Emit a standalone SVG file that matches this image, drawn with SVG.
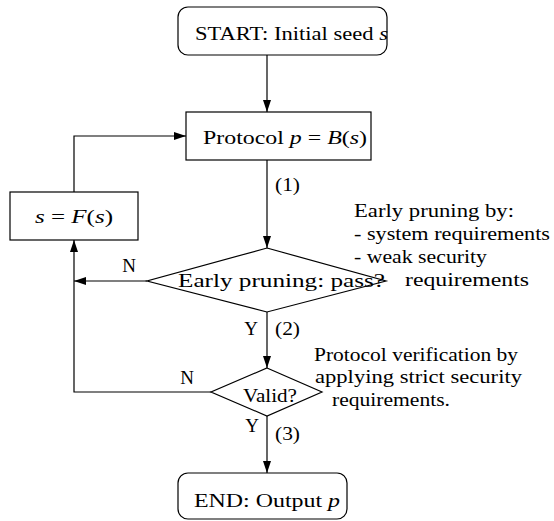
<svg xmlns="http://www.w3.org/2000/svg" width="554" height="521" viewBox="0 0 554 521">
  <style>
    .box { fill: #fff; stroke: #000; stroke-width: 1.2; }
    .ln { fill: none; stroke: #000; stroke-width: 1.2; }
    text { font-family: "Liberation Serif", "Times New Roman", serif; font-size: 19px; fill: #000; }
    .m { font-style: italic; }
  </style>
  <defs>
    <marker id="ah" viewBox="0 0 12 8" refX="12" refY="4" markerWidth="12" markerHeight="8" markerUnits="userSpaceOnUse" orient="auto">
      <path d="M0,0 L12,4 L0,8 Z" fill="#000"/>
    </marker>
  </defs>

  <g id="connectors">
    <line class="ln" x1="267" y1="55" x2="267" y2="112" marker-end="url(#ah)"/>
    <line class="ln" x1="267" y1="160" x2="267" y2="248" marker-end="url(#ah)"/>
    <line class="ln" x1="147" y1="281" x2="74" y2="281" marker-end="url(#ah)"/>
    <line class="ln" x1="267" y1="312" x2="267" y2="368" marker-end="url(#ah)"/>
    <polyline class="ln" points="211,392 74,392 74,240" marker-end="url(#ah)"/>
    <polyline class="ln" points="74,192 74,136 186,136" marker-end="url(#ah)"/>
    <line class="ln" x1="267" y1="416" x2="267" y2="473" marker-end="url(#ah)"/>
    <text x="275" y="191" textLength="25" lengthAdjust="spacingAndGlyphs">(1)</text>
    <text x="129" y="272" text-anchor="middle">N</text>
    <text x="251" y="335" text-anchor="middle">Y</text>
    <text x="275" y="335" textLength="25" lengthAdjust="spacingAndGlyphs">(2)</text>
    <text x="187" y="384" text-anchor="middle">N</text>
    <text x="252" y="432" text-anchor="middle">Y</text>
    <text x="275" y="440" textLength="25" lengthAdjust="spacingAndGlyphs">(3)</text>
  </g>

  <g id="start">
    <rect class="box" x="178" y="7" width="209" height="48" rx="10"/>
    <text x="195" y="40" textLength="193" lengthAdjust="spacingAndGlyphs">START: Initial seed <tspan class="m">s</tspan></text>
  </g>

  <g id="protocol">
    <rect class="box" x="186" y="112" width="185" height="48"/>
    <text x="203" y="144" textLength="164" lengthAdjust="spacingAndGlyphs">Protocol <tspan class="m">p</tspan> = <tspan class="m">B</tspan>(<tspan class="m">s</tspan>)</text>
  </g>

  <g id="update">
    <rect class="box" x="10" y="192" width="128" height="48"/>
    <text x="35" y="223" textLength="78" lengthAdjust="spacingAndGlyphs"><tspan class="m">s</tspan> = <tspan class="m">F</tspan>(<tspan class="m">s</tspan>)</text>
  </g>

  <g id="early">
    <polygon class="box" points="267,248 386,281 267,312 147,281"/>
    <text x="178" y="287" textLength="207" lengthAdjust="spacingAndGlyphs">Early pruning: pass?</text>
  </g>

  <g id="early-note">
    <text x="354" y="217" textLength="160" lengthAdjust="spacingAndGlyphs">Early pruning by:</text>
    <text x="354" y="240" textLength="196" lengthAdjust="spacingAndGlyphs">- system requirements</text>
    <text x="354" y="263" textLength="133" lengthAdjust="spacingAndGlyphs">- weak security</text>
    <text x="405" y="286" textLength="124" lengthAdjust="spacingAndGlyphs">requirements</text>
  </g>

  <g id="valid">
    <polygon class="box" points="267,368 322,392 267,416 211,392"/>
    <text x="243" y="402" textLength="54" lengthAdjust="spacingAndGlyphs">Valid?</text>
  </g>

  <g id="valid-note">
    <text x="314" y="361" textLength="204" lengthAdjust="spacingAndGlyphs">Protocol verification by</text>
    <text x="315" y="383" textLength="207" lengthAdjust="spacingAndGlyphs">applying strict security</text>
    <text x="332" y="406" textLength="118" lengthAdjust="spacingAndGlyphs">requirements.</text>
  </g>

  <g id="end">
    <rect class="box" x="178" y="473" width="169" height="46" rx="10"/>
    <text x="194" y="507" textLength="146" lengthAdjust="spacingAndGlyphs">END: Output <tspan class="m">p</tspan></text>
  </g>
</svg>
